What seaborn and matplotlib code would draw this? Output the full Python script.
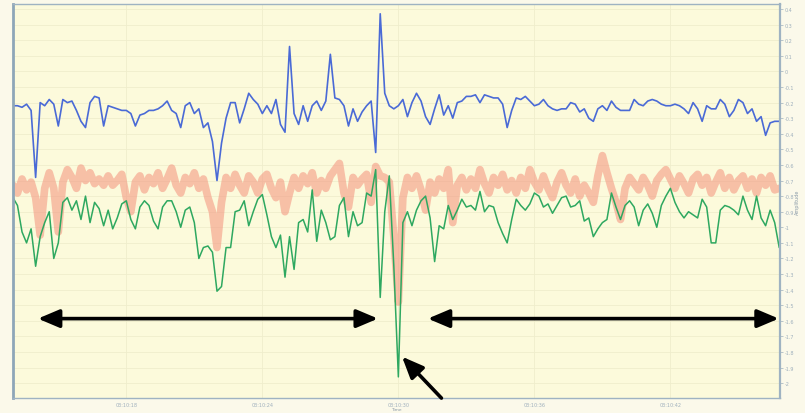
import numpy as np
import pandas as pd
import matplotlib
matplotlib.use("Agg")
import matplotlib.pyplot as plt
import seaborn as sns

# signal traces (one sample per step)
blue = [-0.22, -0.22, -0.23, -0.21, -0.25, -0.68, -0.20, -0.22, -0.18, -0.21,
        -0.35, -0.18, -0.20, -0.19, -0.25, -0.32, -0.36, -0.20, -0.16, -0.17,
        -0.35, -0.22, -0.23, -0.24, -0.25, -0.25, -0.27, -0.35, -0.28, -0.27,
        -0.25, -0.25, -0.24, -0.22, -0.19, -0.25, -0.27, -0.36, -0.22, -0.20,
        -0.27, -0.24, -0.36, -0.33, -0.45, -0.70, -0.46, -0.30, -0.20, -0.20,
        -0.33, -0.24, -0.14, -0.18, -0.21, -0.27, -0.22, -0.27, -0.18, -0.34,
        -0.39, 0.16, -0.27, -0.34, -0.22, -0.32, -0.22, -0.19, -0.25, -0.19,
        0.11, -0.17, -0.18, -0.22, -0.35, -0.24, -0.32, -0.26, -0.22, -0.19,
        -0.52, 0.37, -0.14, -0.22, -0.24, -0.22, -0.18, -0.29, -0.20, -0.14,
        -0.19, -0.29, -0.34, -0.24, -0.15, -0.28, -0.22, -0.30, -0.20, -0.19,
        -0.16, -0.16, -0.15, -0.20, -0.15, -0.16, -0.17, -0.17, -0.21, -0.36,
        -0.25, -0.17, -0.18, -0.16, -0.19, -0.22, -0.21, -0.18, -0.22, -0.24,
        -0.25, -0.24, -0.24, -0.20, -0.21, -0.26, -0.24, -0.30, -0.32, -0.24,
        -0.22, -0.25, -0.19, -0.23, -0.25, -0.25, -0.25, -0.18, -0.21, -0.22,
        -0.19, -0.18, -0.19, -0.21, -0.22, -0.22, -0.21, -0.22, -0.24, -0.27,
        -0.20, -0.24, -0.32, -0.22, -0.24, -0.24, -0.18, -0.21, -0.29, -0.25,
        -0.18, -0.20, -0.27, -0.24, -0.32, -0.29, -0.41, -0.33, -0.32, -0.32]

salmon = [-0.73, -0.78, -0.69, -0.76, -0.71, -0.81, -1.05, -0.75, -0.65, -0.75,
          -1.03, -0.71, -0.63, -0.68, -0.75, -0.62, -0.70, -0.65, -0.72, -0.69,
          -0.73, -0.67, -0.73, -0.70, -0.66, -0.81, -0.90, -0.71, -0.67, -0.76,
          -0.68, -0.72, -0.65, -0.75, -0.69, -0.62, -0.73, -0.78, -0.68, -0.72,
          -0.65, -0.75, -0.69, -0.81, -0.90, -1.13, -0.84, -0.68, -0.75, -0.66,
          -0.73, -0.78, -0.67, -0.71, -0.78, -0.69, -0.66, -0.75, -0.81, -0.71,
          -0.90, -0.78, -0.68, -0.75, -0.67, -0.72, -0.65, -0.78, -0.70, -0.75,
          -0.67, -0.63, -0.59, -0.78, -0.87, -0.68, -0.73, -0.69, -0.66, -0.84,
          -0.61, -0.67, -0.68, -0.71, -1.06, -1.48, -0.81, -0.68, -0.75, -0.67,
          -0.76, -0.89, -0.71, -0.78, -0.69, -0.75, -0.63, -0.97, -0.73, -0.68,
          -0.76, -0.69, -0.75, -0.63, -0.72, -0.78, -0.68, -0.73, -0.66, -0.76,
          -0.70, -0.78, -0.68, -0.75, -0.63, -0.71, -0.76, -0.67, -0.75, -0.81,
          -0.71, -0.65, -0.73, -0.78, -0.69, -0.80, -0.73, -0.78, -0.84, -0.67,
          -0.54, -0.65, -0.75, -0.84, -0.95, -0.75, -0.68, -0.72, -0.76, -0.68,
          -0.73, -0.80, -0.70, -0.66, -0.63, -0.69, -0.75, -0.67, -0.72, -0.78,
          -0.69, -0.66, -0.73, -0.68, -0.78, -0.71, -0.65, -0.75, -0.68, -0.76,
          -0.70, -0.67, -0.75, -0.69, -0.78, -0.68, -0.73, -0.67, -0.76, -0.75]

green = [-0.81, -0.86, -1.03, -1.10, -1.01, -1.25, -1.06, -0.97, -0.90, -1.20,
         -1.10, -0.84, -0.81, -0.89, -0.83, -0.95, -0.80, -0.97, -0.84, -0.88,
         -0.99, -0.89, -1.01, -0.94, -0.85, -0.83, -0.95, -1.01, -0.87, -0.83,
         -0.86, -0.96, -1.01, -0.87, -0.83, -0.83, -0.90, -1.00, -0.89, -0.87,
         -0.97, -1.20, -1.13, -1.12, -1.16, -1.41, -1.38, -1.13, -1.13, -0.90,
         -0.89, -0.83, -0.99, -0.90, -0.82, -0.79, -0.92, -1.06, -1.13, -1.05,
         -1.32, -1.06, -1.27, -0.97, -0.95, -1.03, -0.76, -1.09, -0.89, -0.97,
         -1.08, -1.06, -0.86, -0.81, -1.06, -0.90, -0.99, -0.97, -0.78, -0.80,
         -0.63, -1.45, -0.90, -0.67, -1.25, -1.96, -0.97, -0.90, -0.99, -0.89,
         -0.83, -0.80, -0.94, -1.22, -0.99, -1.01, -0.86, -0.95, -0.89, -0.82,
         -0.87, -0.86, -0.89, -0.77, -0.90, -0.86, -0.87, -0.97, -1.04, -1.10,
         -0.95, -0.82, -0.86, -0.89, -0.85, -0.78, -0.80, -0.87, -0.85, -0.91,
         -0.86, -0.81, -0.80, -0.87, -0.86, -0.83, -0.96, -0.94, -1.06, -1.01,
         -0.97, -0.95, -0.78, -0.87, -0.95, -0.86, -0.83, -0.87, -0.99, -0.89,
         -0.85, -0.91, -1.00, -0.86, -0.80, -0.75, -0.84, -0.90, -0.94, -0.90,
         -0.92, -0.94, -0.82, -0.87, -1.10, -1.10, -0.89, -0.86, -0.87, -0.89,
         -0.92, -0.80, -0.89, -0.95, -0.80, -0.94, -0.99, -0.89, -0.97, -1.13]

time_ticks = [25, 55, 85, 115, 145]
time_labels = ["03:10:18", "03:10:24", "03:10:30", "03:10:36", "03:10:42"]
amp_ticks = [round(0.4 - 0.1 * i, 1) for i in range(25)]

df = pd.DataFrame({"t": np.arange(len(blue)), "blue": blue,
                   "salmon": salmon, "green": green})

sns.set_style("white")
fig = plt.figure(figsize=(8.05, 4.14), dpi=100, facecolor="#fbf9ea")
ax = fig.add_axes([0.0161, 0.036, 0.953, 0.952])
ax.set_facecolor("#fcfadb")

sns.lineplot(data=df, x="t", y="salmon", ax=ax, color="#f4917c", lw=5.5,
             alpha=0.55, solid_joinstyle="round")
sns.lineplot(data=df, x="t", y="green", ax=ax, color="#2ea860", lw=1.1)
sns.lineplot(data=df, x="t", y="blue", ax=ax, color="#4a6ad6", lw=1.2)

ax.set_xlim(0, 169.2)
ax.set_ylim(-2.096, 0.433)

ax.yaxis.tick_right()
ax.yaxis.set_label_position("right")
ax.set_yticks(amp_ticks)
ax.set_yticklabels([("%g" % v) for v in amp_ticks], fontsize=3.5, color="#8a9aa8")
ax.set_xticks(time_ticks)
ax.set_xticklabels(time_labels, fontsize=3.5, color="#8a9aa8")
ax.tick_params(axis="both", length=2, width=0.5, colors="#9fb0bd", pad=1)
ax.set_xlabel("Time", fontsize=3.2, color="#8a9aa8", labelpad=-0.5)
ax.set_ylabel("Amplitude", fontsize=3.5, color="#8a9aa8", labelpad=1)

ax.grid(True, color="#efedcc", lw=0.6)
for s in ax.spines.values():
    s.set_color("#9fb3c2")
    s.set_linewidth(1.0)
ax.spines["left"].set_linewidth(2.0)
ax.spines["left"].set_color("#8ea6b8")
ax.spines["right"].set_linewidth(1.6)

# annotation arrows
arrow = dict(arrowstyle="<|-|>,head_length=1.3,head_width=0.55",
             color="black", lw=2.6, shrinkA=0, shrinkB=0)
ax.annotate("", xy=(5.5, -1.586), xytext=(80.5, -1.586), arrowprops=arrow)
ax.annotate("", xy=(91.5, -1.586), xytext=(168.9, -1.586), arrowprops=arrow)
ax.annotate("", xy=(85.8, -1.83), xytext=(94.5, -2.096),
            arrowprops=dict(arrowstyle="-|>,head_length=1.3,head_width=0.55",
                            color="black", lw=2.6, shrinkA=0, shrinkB=0))

fig.savefig("out.png", dpi=100, facecolor=fig.get_facecolor())
